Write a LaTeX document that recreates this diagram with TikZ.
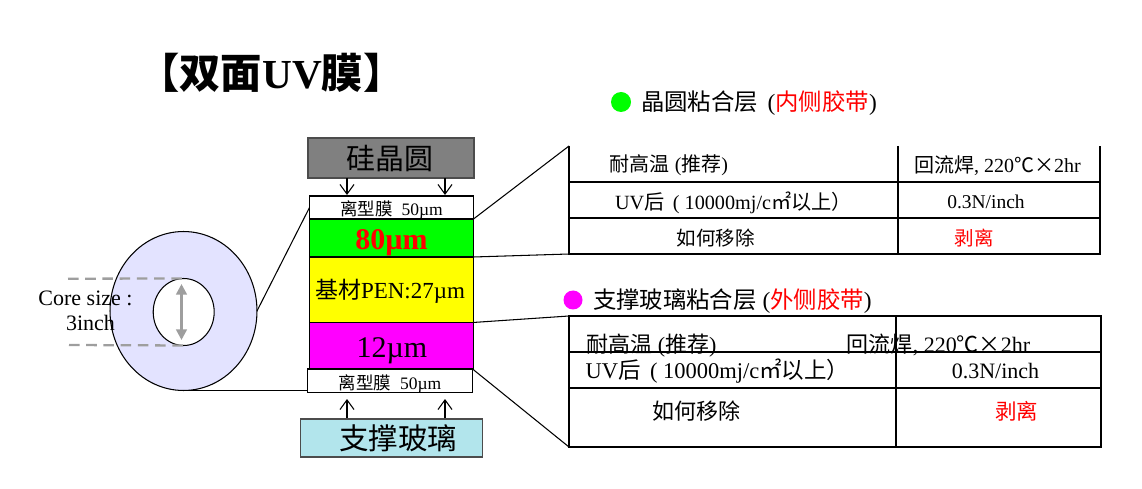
\documentclass[tikz,border=0pt]{standalone}
\usepackage{fontspec}
\setmainfont{Liberation Serif}
\newfontfamily\cjk{Noto Sans CJK SC}
\newcommand{\zh}[1]{{\cjk #1}}
\newcommand{\pxfont}[1]{\pgfmathsetlengthmacro\pxsize{#1*0.569pt}\fontsize{\pxsize}{\pxsize}\selectfont}
\usetikzlibrary{shapes.geometric,arrows.meta}
\definecolor{discblue}{HTML}{E3E3FF}
\definecolor{glassblue}{HTML}{B2E5EC}
\definecolor{waferfill}{HTML}{808080}
\definecolor{layergreen}{RGB}{0,255,0}
\definecolor{layeryellow}{RGB}{255,255,0}
\definecolor{layerpink}{RGB}{255,0,255}
\definecolor{textred}{RGB}{255,0,0}
\tikzset{
	layer/.style={draw=black,line width=.7pt,inner sep=0pt,outer sep=0pt,minimum width=3.28cm},
	source/.style={draw=black!70,line width=.8pt,inner sep=0pt,outer sep=0pt},
	txt/.style={inner sep=0pt,outer sep=0pt,anchor=mid},
	inarrow/.style={-{Straight Barb[length=5.5pt,width=8pt]},line width=.6pt},
	gridline/.style={line width=.8pt},
	zoomline/.style={line width=.6pt},
	coredash/.style={black!38,line width=1.3pt,dash pattern=on 6pt off 3.8pt},
}
\begin{document}
\begin{tikzpicture}[x=0.02cm,y=-0.02cm]
	\useasboundingbox (0,0) rectangle (1142,489);
	
	\node[inner sep=0pt,anchor=mid west] (title) at (138,84) {\fontsize{23.5pt}{27pt}\selectfont\bfseries{\cjk\bfseries 【双面}UV{\cjk\bfseries 膜】}};
	
	% disc
	\node[ellipse,draw,line width=.6pt,fill=discblue,inner sep=0pt,outer sep=0pt,
		minimum width=2.94cm,minimum height=3.18cm] (disc) at (183.5,311) {};
	\node[ellipse,draw,line width=.6pt,fill=white,inner sep=0pt,outer sep=0pt,
		minimum width=1.22cm,minimum height=1.34cm] (core) at (183.7,312) {};
	\coordinate (dashtop) at (68,278.7);
	\coordinate (dashbot) at (69,345);
	\draw[coredash] (dashtop)--(core.north);
	\draw[coredash] (dashbot)--(core.south);
	\coordinate (captop) at (181.5,284);
	\coordinate (capbot) at (181.5,340);
	\draw[black!38,line width=1.4pt,{Triangle[length=6pt,width=6pt]}-{Triangle[length=6pt,width=6pt]}] (captop)--(capbot);
	\node[txt,font=\pxfont{22}] (coresize) at (85.5,301) {Core size :};
	\node[txt,font=\pxfont{22}] (coreinch) at (90.5,326) {3inch};
	
	% layers
	\node[source,fill=waferfill,minimum width=3.32cm,minimum height=.8cm] (wafer) at (391,158) {};
	\node[layer,fill=white,minimum height=.46cm] (filmtop) at (391.5,207.5) {};
	\node[layer,fill=layergreen,minimum height=.76cm] (green) at (391.5,238) {};
	\node[layer,fill=layeryellow,minimum height=1.31cm] (yellow) at (391.5,289.7) {};
	\node[layer,fill=layerpink,minimum height=.93cm] (pink) at (391.5,345.7) {};
	\node[layer,fill=white,minimum width=3.3cm,minimum height=.47cm] (filmbot) at (390,380.7) {};
	\node[source,fill=glassblue,minimum width=3.64cm,minimum height=.76cm] (glass) at (391.5,438) {};
	
	\node[txt,font=\pxfont{29}] at (390,165) {\zh{硅晶圆}};
	\node[txt,font=\pxfont{17.5}] at (391.5,211) {\zh{离型膜}\ \ 50µm};
	\node[txt,font=\pxfont{30}\bfseries,text=textred] at (391.5,245) {80µm};
	\node[txt,font=\pxfont{23}] at (390,294) {\zh{基材}PEN:27µm};
	\node[txt,font=\pxfont{30}] at (392,353) {12µm};
	\node[txt,font=\pxfont{17.5}] at (390,385) {\zh{离型膜}\ \ 50µm};
	\node[txt,font=\pxfont{29.5}] at (398,445) {\zh{支撑玻璃}};
	
	\foreach \x in {347,445}{
		\coordinate (a\x) at (\x,178);
		\coordinate (b\x) at (\x,195);
		\coordinate (c\x) at (\x,418);
		\coordinate (d\x) at (\x,399);
		\draw[inarrow] (a\x)--(b\x);
		\draw[inarrow] (c\x)--(d\x);
	}
	
	\draw[zoomline] (disc.east)--(filmtop.west);
	\draw[zoomline] (disc.south)--(disc.south -| filmbot.west);
	
	% first table
	\coordinate (t1a) at (569,146);
	\coordinate (t1b) at (569,254);
	\coordinate (t1c) at (1100,146);
	\coordinate (t1d) at (1100,254);
	\draw[gridline] (t1a)--(t1b)--(t1d)--(t1c);
	\draw[gridline] (898,146)--(898,254);
	\foreach \y in {182,218}
		\draw[gridline] (569,\y)--(1100,\y);
	\draw[zoomline] (filmtop.south east)--(t1a);
	\draw[zoomline] (green.south east)--(t1b);
	
	\fill[layergreen] (621,102) circle (10);
	\node[txt,anchor=mid west,font=\pxfont{23.4}] (head1) at (641,106) {\zh{晶圆粘合层}\ \,(\textcolor{textred}{\zh{内侧胶带}})};
	\node[txt,font=\pxfont{20}] (cell1a) at (669,167) {\zh{耐高温} (\zh{推荐})};
	\node[txt,font=\pxfont{20}] (cell1b) at (997.5,168) {\zh{回流焊}, 220\zh{℃×}2hr};
	\node[txt,font=\pxfont{20.2}] (cell1c) at (733.5,205) {UV\zh{后}\ \,( 10000mj/c\zh{㎡以上}\zh{）}};
	\node[txt,font=\pxfont{19.5}] (cell1d) at (986,204) {0.3N/inch};
	\node[txt,font=\pxfont{19.5}] (cell1e) at (715.5,241) {\zh{如何移除}};
	\node[txt,font=\pxfont{19.5},text=textred] (cell1f) at (974,241) {\zh{剥离}};
	
	% second table
	\coordinate (t2a) at (569,316);
	\coordinate (t2b) at (569,447);
	\coordinate (t2c) at (1101,316);
	\coordinate (t2d) at (1101,447);
	\draw[gridline] (t2a)--(t2b)--(t2d)--(t2c)--cycle;
	\draw[gridline] (896,316)--(896,447);
	\foreach \y in {352,388}
		\draw[gridline] (569,\y)--(1101,\y);
	\draw[zoomline] (pink.north east)--(t2a);
	\draw[zoomline] (filmbot.north east)--(t2b);
	
	\fill[layerpink] (573,300) circle (9.5);
	\node[txt,anchor=mid west,font=\pxfont{23.4}] (head2) at (593,304) {\zh{支撑玻璃粘合层} (\textcolor{textred}{\zh{外侧胶带}})};
	\node[txt,font=\pxfont{22}] (cell2a) at (651.5,348) {\zh{耐高温} (\zh{推荐})};
	\node[txt,font=\pxfont{22}] (cell2b) at (938.5,348) {\zh{回流焊}, 220\zh{℃×}2hr};
	\node[txt,font=\pxfont{22.5}] (cell2c) at (717.5,374) {UV\zh{后}\ \,( 10000mj/c\zh{㎡以上}\zh{）}};
	\node[txt,font=\pxfont{22}] (cell2d) at (995.5,374) {0.3N/inch};
	\node[txt,font=\pxfont{22}] (cell2e) at (696,415) {\zh{如何移除}};
	\node[txt,font=\pxfont{21.5},text=textred] (cell2f) at (1016.5,415) {\zh{剥离}};
\end{tikzpicture}
\end{document}
